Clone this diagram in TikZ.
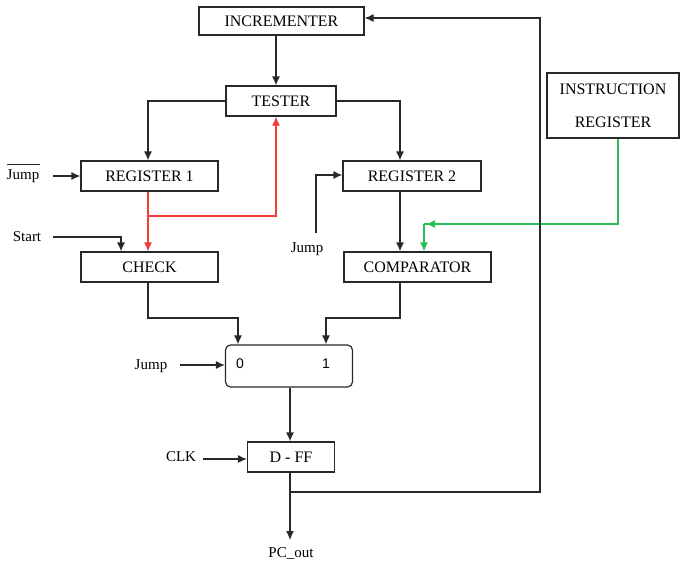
\documentclass[tikz,border=0pt]{standalone}
\usepackage{fontspec}
\setmainfont{Liberation Serif}
\newfontfamily\labelsans{Liberation Sans}
\usetikzlibrary{arrows.meta,calc}
\definecolor{wirered}{RGB}{240,60,55}
\definecolor{wiregreen}{RGB}{40,190,90}
\definecolor{wiregray}{RGB}{40,40,40}
\begin{document}
\begin{tikzpicture}[x=1pt,y=-1pt,
  blk/.style={draw=wiregray, line width=1.2pt, inner sep=0pt, minimum height=30pt,
    font=\fontsize{16}{18}\selectfont},
  lbl/.style={inner sep=1pt, font=\fontsize{15}{17}\selectfont},
  wire/.style={draw=wiregray, line width=1.2pt},
  tip/.style={-{Latex[length=9pt,width=8pt]}},
  arr/.style={wire, tip},
  redarr/.style={line width=1.2pt, draw=wirered, tip},
  greenarr/.style={line width=1.2pt, draw=wiregreen, tip}]
\useasboundingbox (0,0) rectangle (680,568);

% blocks
\node[blk, minimum width=165pt, minimum height=28pt] (inc) at (281.5,21) {INCREMENTER};
\node[blk, minimum width=110pt] (tester) at (281,101) {TESTER};
\node[blk, minimum width=132pt, minimum height=65pt, align=center] (ir) at (613,105.5)
  {INSTRUCTION\\[15pt]REGISTER};
\node[blk, minimum width=137pt] (reg1) at (149.5,176) {REGISTER 1};
\node[blk, minimum width=138pt] (reg2) at (412,176) {REGISTER 2};
\node[blk, minimum width=137pt] (check) at (149.5,267) {CHECK};
\node[blk, minimum width=147pt] (comp) at (417.5,267) {COMPARATOR};
\node[blk, minimum width=127pt, minimum height=42pt, rounded corners=5pt] (mux) at (289,366) {};
\node[blk, minimum width=87pt] (dff) at (291,457) {D - FF};

% multiplexer input labels
\node[font=\labelsans\fontsize{14}{16}\selectfont] (m0) at (240,364) {0};
\node[font=\labelsans\fontsize{14}{16}\selectfont] (m1) at (326,364) {1};

% signal names
\node[lbl] (njump) at (23,176) {Jump};
\draw[wiregray, line width=0.9pt] ($(njump.north west)+(1,-4)$) -- ($(njump.north east)+(0,-4)$);
\node[lbl] (start) at (27,237) {Start};
\node[lbl] (jump2) at (307,249) {Jump};
\node[lbl] (jump3) at (151,366) {Jump};
\node[lbl] (clk) at (181,457) {CLK};
\node[lbl] (pcout) at (291,553) {PC\_out};

% free wire ends
\coordinate (njumpend) at (53,176);
\coordinate (startend) at (53,237);
\coordinate (jump3end) at (180,365);
\coordinate (clkend) at (203,459);
\coordinate (pcend) at (290,540);

% bend points
\coordinate (tl) at (148,101);
\coordinate (tr) at (400,101);
\coordinate (rsplit) at (148,216);
\coordinate (rup) at (276,216);
\coordinate (sbend) at (121,237);
\coordinate (jstart) at (316,233);
\coordinate (jbend) at (316,175);
\coordinate (gdown) at (618,224);
\coordinate (gcorner) at (424,224);
\coordinate (cl) at (148,318);
\coordinate (cr) at (400,318);
\coordinate (mux0) at (238,318);
\coordinate (mux1) at (326,318);
\coordinate (fb) at (290,492);
\coordinate (fbr) at (540,492);
\coordinate (fbt) at (540,18);

% main data path
\draw[arr] (inc.south -| 276,0) -- (tester.north -| 276,0);
\draw[arr] (tester.west) -- (tl) -- (reg1.north -| tl);
\draw[arr] (tester.east) -- (tr) -- (reg2.north -| tr);
\draw[redarr] (reg1.south -| rsplit) -- (check.north -| rsplit);
\draw[redarr] (rsplit) -- (rup) -- (tester.south -| rup);
\draw[arr] (startend) -- (sbend) -- (check.north -| sbend);
\draw[arr] (njumpend) -- (reg1.west);
\draw[arr] (jstart) -- (jbend) -- (reg2.west |- jbend);
\draw[arr] (reg2.south -| tr) -- (comp.north -| tr);
\draw[wire, draw=wiregreen] (ir.south -| gdown) -- (gdown) -- (gcorner);
\draw[greenarr] (gdown) -- ($(gcorner)+(2,0)$);
\draw[greenarr] (gcorner) -- (comp.north -| gcorner);
\draw[arr] (check.south -| cl) -- (cl) -- (mux0) -- (mux.north -| mux0);
\draw[arr] (comp.south -| cr) -- (cr) -- (mux1) -- (mux.north -| mux1);
\draw[arr] (jump3end) -- (mux.west |- jump3end);
\draw[arr] (mux.south -| fb) -- (dff.north -| fb);
\draw[arr] (clkend) -- (dff.west |- clkend);
\draw[arr] (dff.south -| fb) -- (pcend);
\draw[arr] (fb) -- (fbr) -- (fbt) -- (inc.east |- fbt);
\end{tikzpicture}
\end{document}
